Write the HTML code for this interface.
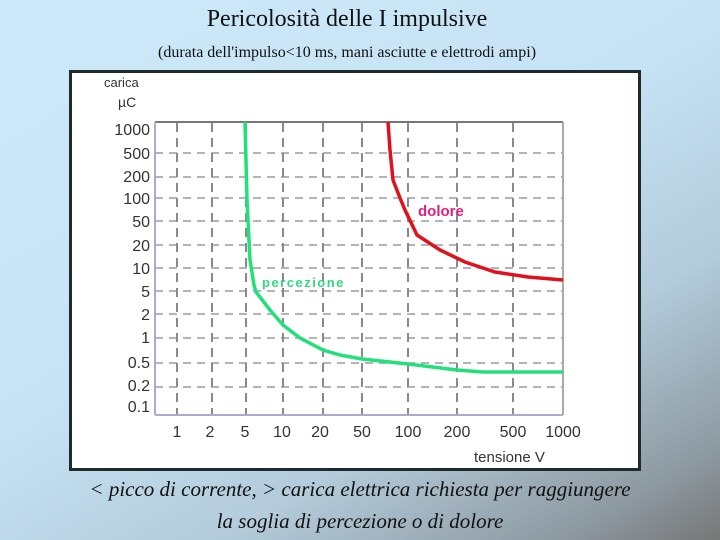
<!DOCTYPE html>
<html><head><meta charset="utf-8"><style>
html,body{margin:0;padding:0}
body{width:720px;height:540px;overflow:hidden;position:relative;
background:linear-gradient(150deg,#cde9f9 0%,#c6e3f5 45%,#b3cbda 70%,#8e9aa2 90%,#777 100%);
font-family:"Liberation Serif",serif;}
.t{position:absolute;left:0;width:694px;text-align:center;color:#111}
</style></head><body>
<div class="t" style="top:6px;font-size:24px;">Pericolosità delle I impulsive</div>
<div class="t" style="top:44px;font-size:16px;">(durata dell'impulso&lt;10 ms, mani asciutte e elettrodi ampi)</div>
<svg style="position:absolute;left:0;top:0" width="720" height="540">
<rect x="70.5" y="71.5" width="569" height="398" fill="#fff" stroke="#1f2a2c" stroke-width="3"/>
<g font-family="Liberation Sans,sans-serif" fill="#333">
<text x="104" y="87" font-size="13">carica</text>
<text x="118" y="107" font-size="14">µC</text>
<g font-size="16" text-anchor="end">
<text x="150" y="135">1000</text><text x="150" y="159">500</text><text x="150" y="182">200</text>
<text x="150" y="204">100</text><text x="150" y="227">50</text><text x="150" y="251">20</text>
<text x="150" y="274">10</text><text x="150" y="297">5</text><text x="150" y="320">2</text>
<text x="150" y="343">1</text><text x="150" y="368">0.5</text><text x="150" y="391">0.2</text>
<text x="150" y="412">0.1</text>
</g>
<g font-size="16" text-anchor="middle">
<text x="177" y="437">1</text><text x="210" y="437">2</text><text x="245" y="437">5</text>
<text x="282" y="437">10</text><text x="320" y="437">20</text><text x="362" y="437">50</text>
<text x="408" y="437">100</text><text x="457" y="437">200</text><text x="513" y="437">500</text>
<text x="563" y="437">1000</text>
</g>
<text x="474" y="462" font-size="15">tensione V</text>
</g>
<g stroke="#9a9aa8" stroke-width="1.5" stroke-dasharray="8,6">
<line x1="155" y1="153" x2="563" y2="153"/><line x1="155" y1="177" x2="563" y2="177"/>
<line x1="155" y1="198" x2="563" y2="198"/><line x1="155" y1="221" x2="563" y2="221"/>
<line x1="155" y1="245" x2="563" y2="245"/><line x1="155" y1="268" x2="563" y2="268"/>
<line x1="155" y1="291" x2="563" y2="291"/><line x1="155" y1="314" x2="563" y2="314"/>
<line x1="155" y1="338" x2="563" y2="338"/><line x1="155" y1="363" x2="563" y2="363"/>
<line x1="155" y1="387" x2="563" y2="387"/>
</g>
<g stroke="#8a8a8a" stroke-width="2" stroke-dasharray="9,6">
<line x1="177" y1="123" x2="177" y2="415"/><line x1="212" y1="123" x2="212" y2="415"/>
<line x1="246" y1="123" x2="246" y2="415"/><line x1="283" y1="123" x2="283" y2="415"/>
<line x1="323" y1="123" x2="323" y2="415"/><line x1="362" y1="123" x2="362" y2="415"/>
<line x1="408" y1="123" x2="408" y2="415"/><line x1="457" y1="123" x2="457" y2="415"/>
<line x1="513" y1="123" x2="513" y2="415"/>
</g>
<line x1="155" y1="122" x2="563" y2="122" stroke="#777" stroke-width="2"/>
<line x1="155" y1="122" x2="155" y2="415" stroke="#b0a8d0" stroke-width="2"/>
<line x1="155" y1="415" x2="563" y2="415" stroke="#b0a8d0" stroke-width="2"/>
<line x1="563" y1="122" x2="563" y2="415" stroke="#aaa" stroke-width="2"/>
<polyline fill="none" stroke="#22e07a" stroke-width="3.5" points="245,122 247,200 250,260 254,285 256,292 270,310 283,325 300,338 323,350 340,355 362,359 408,364 457,370 483,372 563,372"/>
<polyline fill="none" stroke="#e0101c" stroke-width="3.5" points="388,122 390,150 393,180 400,198 405,210 417,235 440,250 465,262 495,272 528,277 563,280"/>
<text x="418" y="216" font-family="Liberation Sans,sans-serif" font-size="15" font-weight="bold" fill="#e0207a">dolore</text>
<text x="262" y="287" font-family="Liberation Sans,sans-serif" font-size="13" font-weight="bold" fill="#30d880" letter-spacing="1.5">percezione</text>
</svg>
<div class="t" style="top:477px;left:0;width:720px;font-size:21px;font-style:italic;">&lt; picco di corrente, &gt; carica elettrica richiesta per raggiungere</div>
<div class="t" style="top:509px;left:0;width:720px;font-size:21px;font-style:italic;">la soglia di percezione o di dolore</div>
</body></html>
